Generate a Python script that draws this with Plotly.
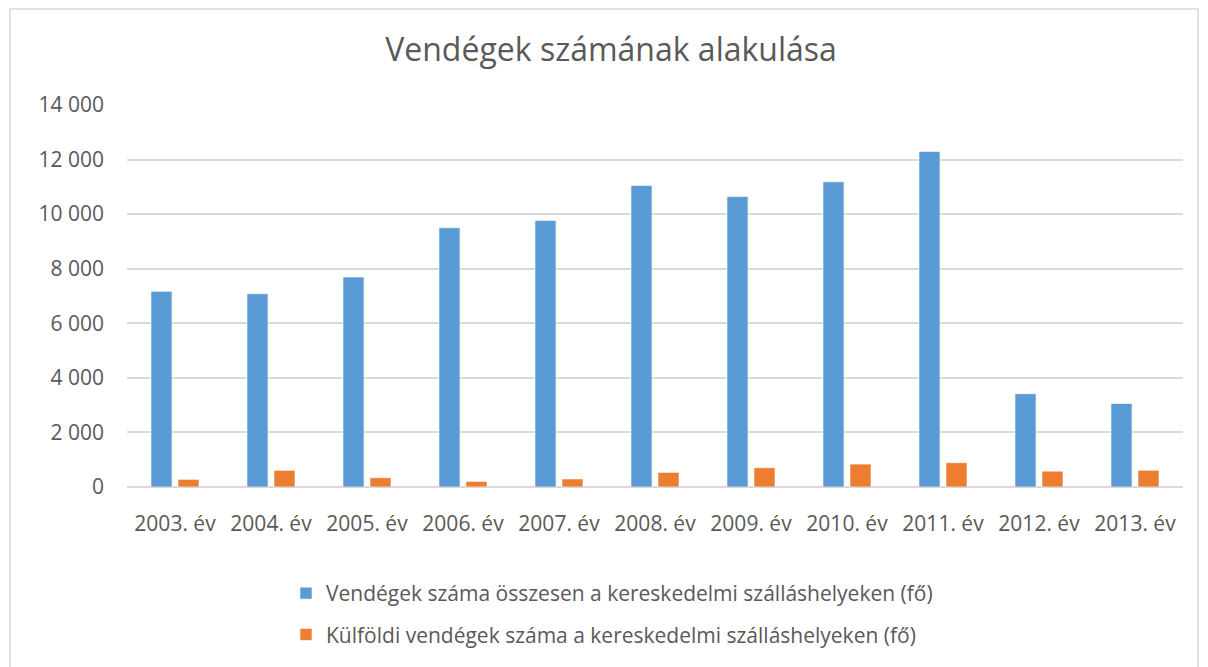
import plotly.graph_objects as go

years = ["2003. év", "2004. év", "2005. év", "2006. év", "2007. év", "2008. év",
         "2009. év", "2010. év", "2011. év", "2012. év", "2013. év"]
total_guests = [7170, 7085, 7695, 9500, 9770, 11050, 10645, 11185, 12295, 3420, 3060]
foreign_guests = [280, 610, 340, 205, 295, 535, 705, 840, 890, 580, 615]
series_names = ["Vendégek száma összesen a kereskedelmi szálláshelyeken (fő)",
                "Külföldi vendégek száma a kereskedelmi szálláshelyeken (fő)"]
y_tickvals = [0, 2000, 4000, 6000, 8000, 10000, 12000, 14000]
y_ticktext = ["0", "2 000", "4 000", "6 000", "8 000", "10 000", "12 000", "14 000"]

FONT = "'Open Sans', sans-serif"
TXT = "#595959"
OFF = 8  # browser body margin

fig = go.Figure()
fig.add_trace(go.Bar(x=years, y=total_guests, name=series_names[0], legendgroup="a",
                     marker=dict(color="#5B9BD5", line=dict(color="#FFFFFF", width=0.6))))
fig.add_trace(go.Bar(x=years, y=foreign_guests, name=series_names[1], legendgroup="b",
                     marker=dict(color="#ED7D31", line=dict(color="#FFFFFF", width=0.6))))

L, R, T, B = 127 - OFF, 1183 - OFF, 105 - OFF, 487 - OFF
fig.update_layout(
    width=1208, height=667,
    paper_bgcolor="white", plot_bgcolor="white",
    margin=dict(l=L, r=1208 - R, t=T, b=667 - B, autoexpand=False),
    barmode="group", bargap=0.4375, bargroupgap=0.22,
    font=dict(family=FONT, color=TXT),
    title=dict(text="Vendégek számának alakulása", x=(611 - OFF) / 1208, xanchor="center",
               xref="container", yref="container", y=1 - (50 - OFF) / 667, yanchor="middle",
               font=dict(size=32, color=TXT, family=FONT)),
    legend=dict(orientation="v", x=(612 - OFF) / 1208, xanchor="center", xref="container",
                yref="container", y=1 - (573 - OFF) / 667, yanchor="top",
                traceorder="grouped", tracegroupgap=11,
                font=dict(size=21, color=TXT, family=FONT)),
    showlegend=True,
)
fig.update_xaxes(showline=False, showgrid=False, ticks="", tickangle=0,
                 tickfont=dict(size=21, color=TXT), ticklabelstandoff=22)
fig.update_yaxes(range=[0, 14000], tickvals=y_tickvals, ticktext=y_ticktext,
                 showgrid=True, gridcolor="#D9D9D9", gridwidth=1.5, zeroline=True,
                 zerolinecolor="#D9D9D9", zerolinewidth=1.5, showline=False, ticks="",
                 tickfont=dict(size=21, color=TXT), ticklabelstandoff=22)

# chart border
W, H = R - L, B - T
fig.add_shape(type="rect", xref="paper", yref="paper",
              x0=(10 - 127) / W, x1=(1198 - 127) / W,
              y0=(487 - 680) / H, y1=(487 - 9) / H,
              line=dict(color="#D9D9D9", width=1.5), fillcolor="rgba(0,0,0,0)", layer="below")

fig.write_html("out.html")
